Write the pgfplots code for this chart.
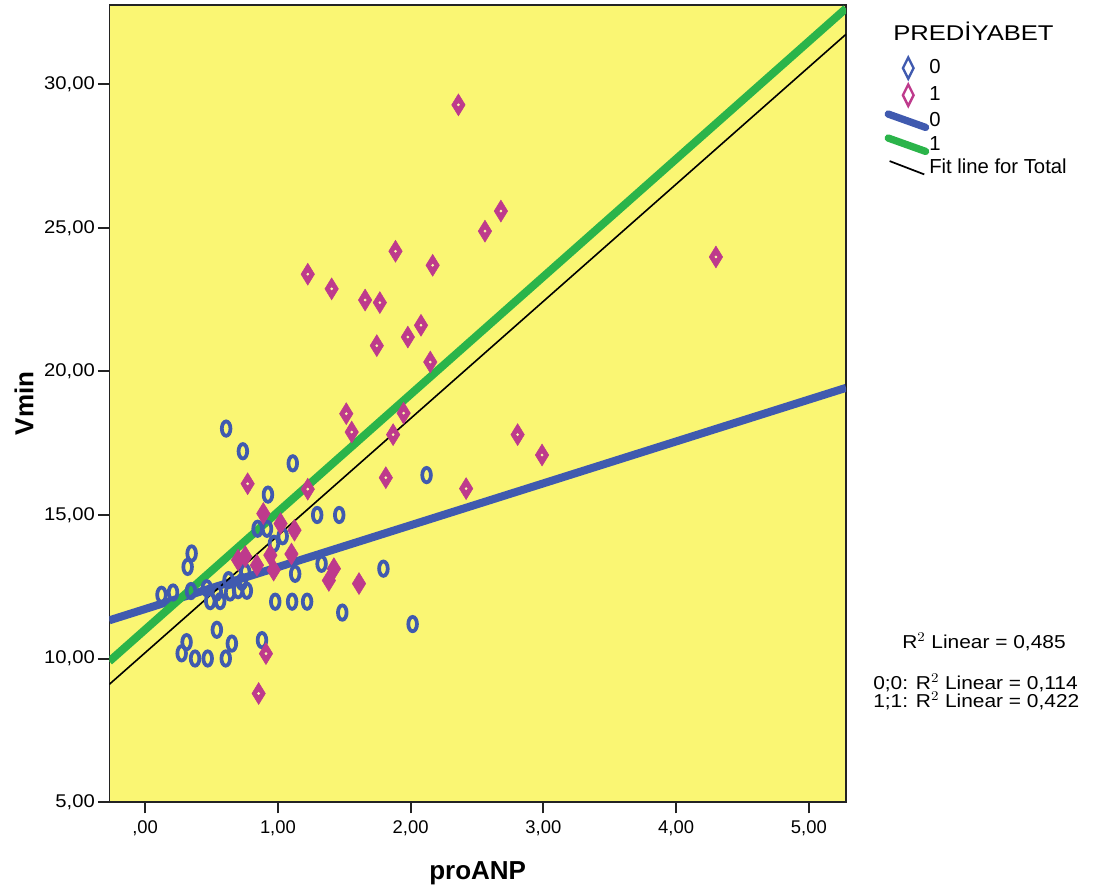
\documentclass[border=0pt]{standalone}
\usepackage{pgfplots}
\pgfplotsset{compat=1.18}
\usepackage{fontspec}
\setmainfont{Liberation Sans}
\definecolor{bgyellow}{RGB}{250,246,115}
\definecolor{blue0}{RGB}{64,90,175}
\definecolor{mag1}{RGB}{190,58,140}
\definecolor{green1}{RGB}{43,180,74}
\definecolor{frame}{RGB}{35,35,35}
\begin{document}
\begin{tikzpicture}
\useasboundingbox (0,0) rectangle (823.5pt,669pt);
\begin{axis}[
  at={(82pt,67.5pt)}, anchor=south west,
  width=552.5pt, height=597.75pt, scale only axis,
  xmin=-0.27, xmax=5.28, ymin=5, ymax=32.77,
  axis background/.style={fill=bgyellow},
  axis line style={frame, line width=1pt},
  xtick={0,1,2,3,4,5},
  xticklabels={{,00},{1,00},{2,00},{3,00},{4,00},{5,00}},
  ytick={5,10,15,20,25,30},
  yticklabels={{5,00},{10,00},{15,00},{20,00},{25,00},{30,00}},
  xtick pos=left, ytick pos=left,
  tick align=outside, major tick length=8.5pt,
  tick style={frame, line width=1.5pt},
  major tick style={frame, line width=1.5pt},
  /pgf/number format/assume math mode=true,
  xticklabel style={font=\fontsize{13.8}{15}\selectfont, yshift=-2pt},
  yticklabel style={font=\fontsize{13.8}{15}\selectfont, xscale=1.1, inner sep=2pt},
  xlabel={\bfseries proANP},
  ylabel={\bfseries Vmin},
  label style={font=\fontsize{19.5}{24}\selectfont},
  xlabel style={at={(axis description cs:0.5,-0.089)}, anchor=center},
  ylabel style={at={(axis description cs:-0.116,0.50)}, anchor=center},
  clip=true,
  legend style={at={(1.052,0.936)}, anchor=north west, draw=none, fill=none,
    font=\fontsize{15.2}{16}\selectfont, row sep=2.5pt, inner sep=0pt,
    nodes={inner sep=0pt, text height=11pt, text depth=3pt, anchor=west}},
  legend cell align=left,
]
% group 0 scatter
\addplot[only marks, mark=o, color=blue0, mark size=5.4pt, line width=2.8pt,
  mark options={xscale=0.6, line width=2.8pt, draw=blue0},
  legend image code/.code={\draw[blue0, line width=1.8pt, fill=white] (17pt,8pt) -- (21pt,0pt) -- (17pt,-8pt) -- (13pt,0pt) -- cycle;}]
table {
x y
0.61 18.01
0.736 17.22
1.112 16.80
2.12 16.39
0.925 15.71
1.296 15.0
1.462 15.0
0.847 14.52
0.918 14.52
1.036 14.26
0.97 14.0
0.35 13.66
0.32 13.19
1.329 13.30
1.13 12.95
0.754 13.01
1.795 13.13
0.728 12.67
0.628 12.73
0.123 12.22
0.21 12.30
0.345 12.35
0.464 12.45
0.49 12.0
0.565 12.0
0.54 12.3
0.64 12.3
0.70 12.38
0.766 12.36
0.98 11.98
1.107 11.98
1.22 11.98
1.485 11.6
2.015 11.2
0.54 11.0
0.312 10.57
0.275 10.18
0.376 10.0
0.471 10.0
0.607 10.0
0.653 10.52
0.88 10.64
};
\addlegendentry{0}
% group 1 scatter
\addplot[only marks, mark=diamond*, color=mag1, mark size=8.2pt,
  mark options={xscale=0.82, line width=0.4pt},
  legend image code/.code={\draw[mag1, line width=1.8pt, fill=white] (17pt,8pt) -- (21pt,0pt) -- (17pt,-8pt) -- (13pt,0pt) -- cycle;}]
table {
x y
2.36 29.29
2.68 25.59
2.56 24.89
1.225 23.39
1.886 24.19
2.166 23.70
1.405 22.88
1.657 22.49
1.768 22.40
2.078 21.61
1.979 21.20
1.745 20.90
2.148 20.33
1.515 18.53
1.556 17.89
1.947 18.55
1.868 17.80
1.813 16.30
1.225 15.90
2.806 17.80
2.99 17.09
2.418 15.92
4.30 23.99
0.772 16.09
0.89 15.05
1.02 14.70
1.125 14.47
1.102 13.64
0.754 13.55
0.943 13.60
0.70 13.43
0.842 13.25
0.968 13.08
1.422 13.13
1.384 12.72
1.611 12.61
0.91 10.17
0.855 8.78
};
\addlegendentry{1}
% fit line group 0
\addplot[blue0, line width=6pt,
  legend image code/.code={\draw[blue0, line width=5.5pt, line cap=round] (2pt,5pt) -- (30pt,-5pt);}]
coordinates {(-0.27,11.33) (5.28,19.43)};
\addlegendentry{0}
% fit line group 1
\addplot[green1, line width=6pt,
  legend image code/.code={\draw[green1, line width=5.5pt, line cap=round] (2pt,5pt) -- (30pt,-5pt);}]
coordinates {(-0.27,9.9) (5.28,32.65)};
\addlegendentry{1}
% fit line total
\addplot[black, line width=1.2pt,
  legend image code/.code={\draw[black, line width=1.3pt] (3pt,5pt) -- (29pt,-5pt);}]
coordinates {(-0.27,9.1) (5.28,31.75)};
\addlegendentry{Fit line for Total}
% centre dots of the diamonds
\addplot[only marks, mark=*, color=bgyellow!60!white, mark size=0.8pt, forget plot]
table {
x y
2.36 29.29
2.68 25.59
2.56 24.89
1.225 23.39
1.886 24.19
2.166 23.70
1.405 22.88
1.657 22.49
1.768 22.40
2.078 21.61
1.979 21.20
1.745 20.90
2.148 20.33
1.515 18.53
1.556 17.89
1.947 18.55
1.868 17.80
1.813 16.30
1.225 15.90
2.806 17.80
2.99 17.09
2.418 15.92
4.30 23.99
0.772 16.09
0.855 8.78
0.91 10.17
};
\end{axis}
\node[anchor=west, font=\fontsize{16}{18}\selectfont, xscale=1.2, inner sep=0pt] at (669.75pt,645.75pt) {PREDİYABET};
\node[anchor=center, font=\fontsize{14}{16}\selectfont, xscale=1.12, inner sep=0pt] at (738pt,187.5pt) {R$^{2}$ Linear = 0,485};
\node[anchor=west, font=\fontsize{14}{13.6}\selectfont, xscale=1.12, inner sep=0pt, align=left] at (654.75pt,150pt) {0;0: R$^{2}$ Linear = 0,114\\1;1: R$^{2}$ Linear = 0,422};
\end{tikzpicture}
\end{document}
